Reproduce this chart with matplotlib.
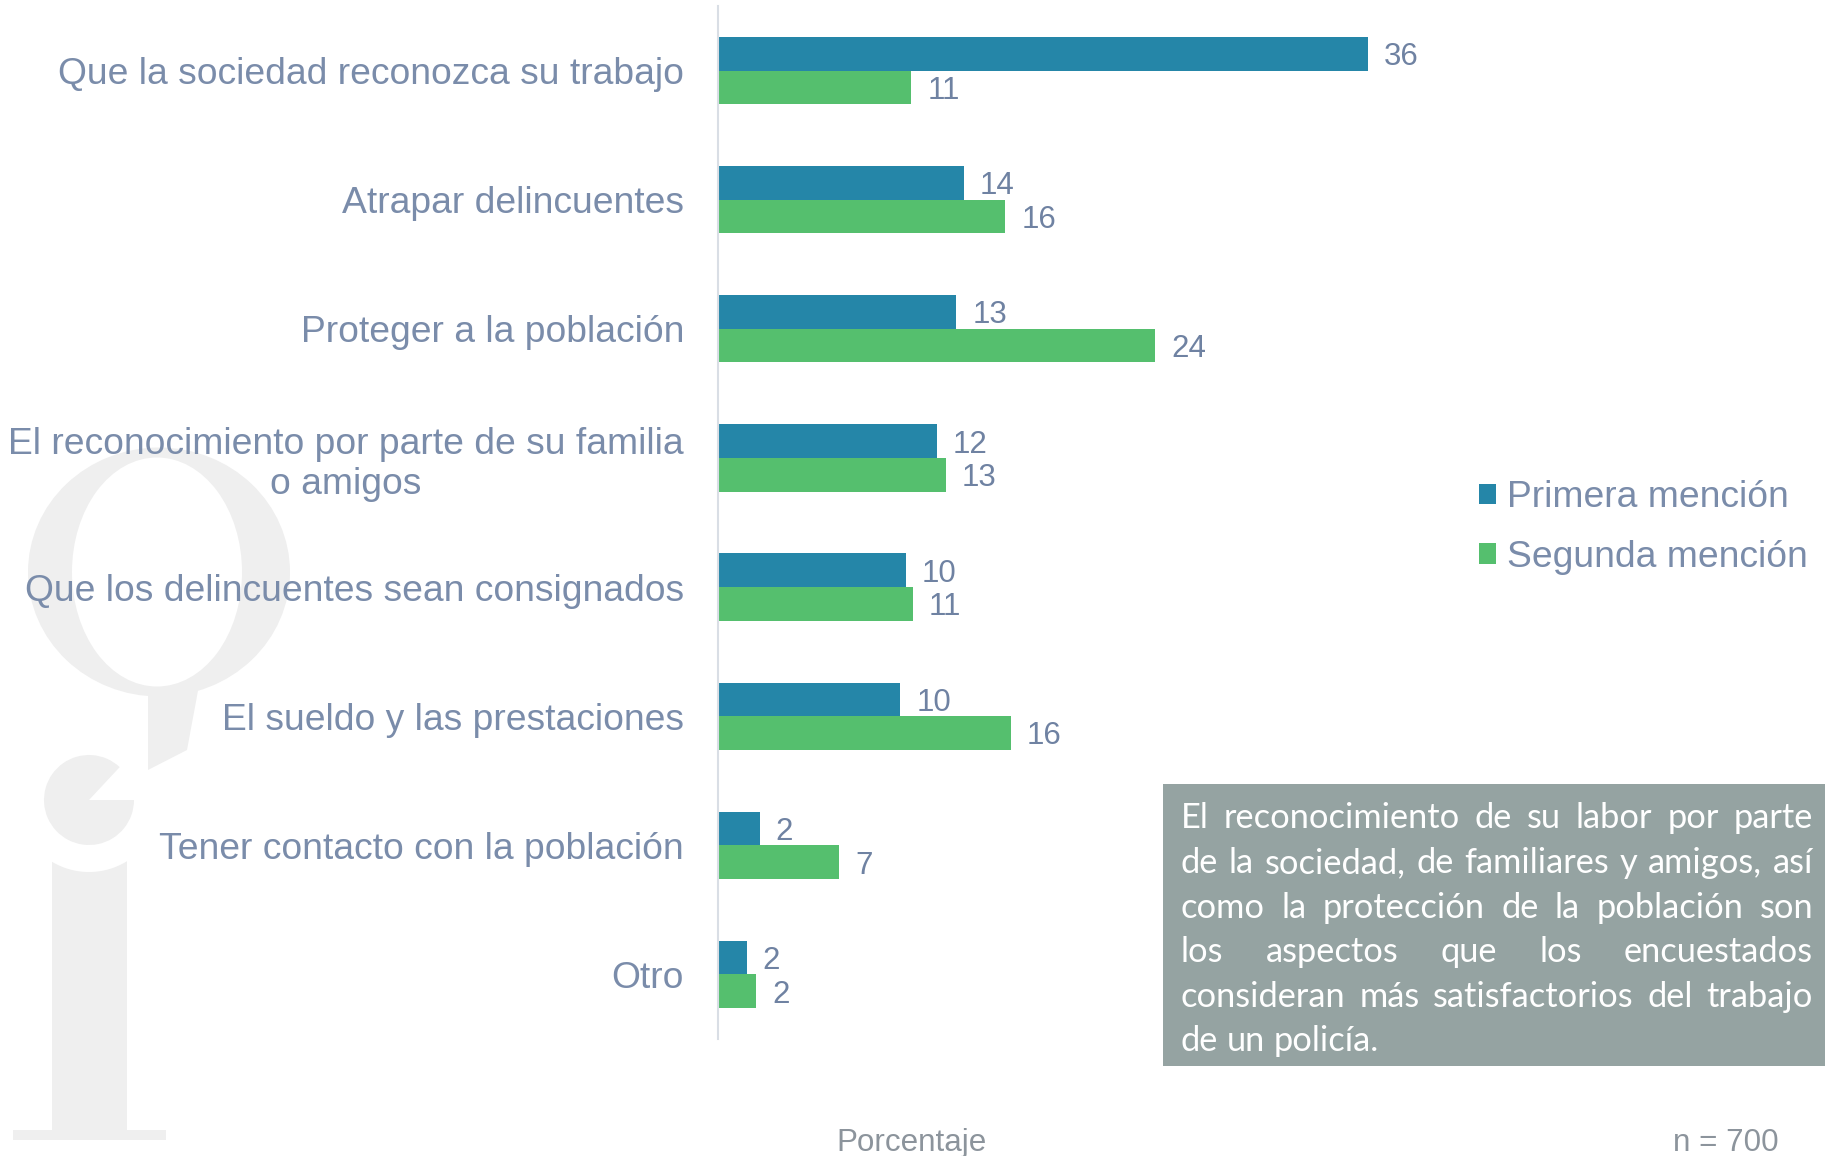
import matplotlib
matplotlib.use("Agg")
import matplotlib.pyplot as plt
from matplotlib.patches import Rectangle, Ellipse, Polygon, Wedge
from matplotlib import font_manager
import numpy as np

# ---------------- data ----------------
categories = [
    "Que la sociedad reconozca su trabajo",
    "Atrapar delincuentes",
    "Proteger a la población",
    "El reconocimiento por parte de su familia\no amigos",
    "Que los delincuentes sean consignados",
    "El sueldo y las prestaciones",
    "Tener contacto con la población",
    "Otro",
]
primera = [36.0, 13.6, 13.2, 12.1, 10.4, 10.1, 2.3, 1.6]
segunda = [10.7, 15.9, 24.2, 12.6, 10.8, 16.2, 6.7, 2.1]
series_names = ["Primera mención", "Segunda mención"]
note_lines = [
    "El reconocimiento de su labor por parte",
    "de la sociedad, de familiares y amigos, así",
    "como la protección de la población son",
    "los aspectos que los encuestados",
    "consideran más satisfactorios del trabajo",
    "de un policía.",
]
axis_title = "Porcentaje"
sample_note = "n = 700"

# ---------------- style ----------------
W, H = 1825, 1156
plt.rcParams["font.family"] = ["Liberation Sans", "DejaVu Sans"]
c_blue = "#2586A8"
c_green = "#55BF6E"
c_text = "#7A8CAA"
c_val = "#6F82A2"
c_wm = "#EFEFEF"

fig = plt.figure(figsize=(W / 100, H / 100), dpi=100)
fig.patch.set_facecolor("white")

# background (watermark) axes in pixel coordinates
bg = fig.add_axes([0, 0, 1, 1], zorder=0)
bg.set_xlim(0, W)
bg.set_ylim(H, 0)
bg.axis("off")
bg.add_patch(Ellipse((159, 572), 262, 249, color=c_wm, lw=0))
bg.add_patch(Polygon([(148, 685), (148, 770), (187, 750), (200, 680), (175, 683)],
                     closed=True, color=c_wm, lw=0))
bg.add_patch(Ellipse((157, 572), 170, 229, color="white", lw=0))
bg.add_patch(Wedge((89, 800), 45, 0, 313, color=c_wm, lw=0))
xs = np.linspace(52, 127, 40)
tops = 800 + np.sqrt(np.clip(72 ** 2 - (xs - 89) ** 2, 0, None))
stem = [(52, 1130)] + list(zip(xs, tops)) + [(127, 1130)]
bg.add_patch(Polygon(stem, closed=True, color=c_wm, lw=0))
bg.add_patch(Rectangle((13, 1130), 153, 10, color=c_wm, lw=0))

# main chart axes
x0_px, top_px, bot_px = 718, 6, 1039
px_per_unit = 18.06
xmax = 60
ax = fig.add_axes([x0_px / W, (H - bot_px) / H, xmax * px_per_unit / W, (bot_px - top_px) / H],
                  zorder=1)
ax.patch.set_alpha(0)
y = np.arange(len(categories))
h = 0.26
b1 = ax.barh(y - h / 2, primera, height=h, color=c_blue, label=series_names[0])
b2 = ax.barh(y + h / 2, segunda, height=h, color=c_green, label=series_names[1])
for cont in (b1, b2):
    for rect in cont:
        v = rect.get_width()
        ax.annotate(f"{v:.0f}", (v, rect.get_y() + rect.get_height() / 2),
                    xytext=(11.5, -2.5), textcoords="offset points",
                    ha="left", va="center", fontsize=22.5, color=c_val)
ax.set_xlim(0, xmax)
ax.set_ylim(len(categories) - 0.5, -0.5)
ax.set_yticks(y)
ax.set_yticklabels(categories, fontsize=26.8, color=c_text, multialignment="center",
                   linespacing=1.2)
ax.tick_params(axis="y", length=0, pad=24.5)
ax.set_xticks([])
for s in ["top", "right", "bottom"]:
    ax.spines[s].set_visible(False)
ax.spines["left"].set_color("#D9DEE5")
ax.spines["left"].set_linewidth(1.5)

leg = ax.legend(handles=[b1, b2], loc="center left",
                bbox_to_anchor=(1479 / W, 1 - 527.5 / H), bbox_transform=fig.transFigure,
                frameon=False, fontsize=26.8, handlelength=0.47, handleheight=0.47,
                handletextpad=0.28, labelspacing=0.65, borderpad=0, borderaxespad=0,
                labelcolor=c_text)

# overlay axes for the note box and footer texts
ov = fig.add_axes([0, 0, 1, 1], zorder=3)
ov.set_xlim(0, W)
ov.set_ylim(H, 0)
ov.axis("off")
ov.patch.set_alpha(0)
ov.add_patch(Rectangle((1163, 784), W - 1163, 1066 - 784, color="#95A3A2", lw=0))

avail = {f.name for f in font_manager.fontManager.ttflist}
note_font = ["Lato", "DejaVu Sans"] if "Lato" in avail else ["DejaVu Sans"]

fig.canvas.draw()
r = fig.canvas.get_renderer()


def twidth(s, size):
    t = ov.text(0, 0, s, fontsize=size, family=note_font)
    w = t.get_window_extent(r).width
    t.remove()
    return w


tx0, tx1 = 1181, 1813
box_w = tx1 - tx0
size = 26.6
sp = twidth("a a", size) - twidth("aa", size)
nat = []
for line in note_lines[:-1]:
    words = line.split(" ")
    nat.append(sum(twidth(wd, size) for wd in words) + sp * (len(words) - 1))
if max(nat) > box_w * 0.99:
    size = size * box_w * 0.98 / max(nat)
sp = twidth("a a", size) - twidth("aa", size)

line_centers = [818, 863, 907.5, 952, 997, 1041]
for i, line in enumerate(note_lines):
    words = line.split(" ")
    widths = [twidth(wd, size) for wd in words]
    base = line_centers[i] + 0.3 * size * 100 / 72
    if i < len(note_lines) - 1 and len(words) > 1:
        gap = (box_w - sum(widths)) / (len(words) - 1)
    else:
        gap = sp
    x = tx0
    for wd, wdt in zip(words, widths):
        ov.text(x, base, wd, fontsize=size, family=note_font, color="white",
                ha="left", va="baseline")
        x += wdt + gap

if "Liberation Sans Narrow" in avail:
    foot_font, foot_size = ["Liberation Sans Narrow", "DejaVu Sans"], 27
else:
    foot_font, foot_size = ["Liberation Sans", "DejaVu Sans"], 22.6
ov.text(912, 1151, axis_title, fontsize=foot_size, family=foot_font, color="#8C949C",
        ha="center", va="baseline")
ov.text(1726, 1151, sample_note, fontsize=foot_size, family=foot_font, color="#8C949C",
        ha="center", va="baseline")

fig.savefig("out.png", dpi=100, facecolor="white")
